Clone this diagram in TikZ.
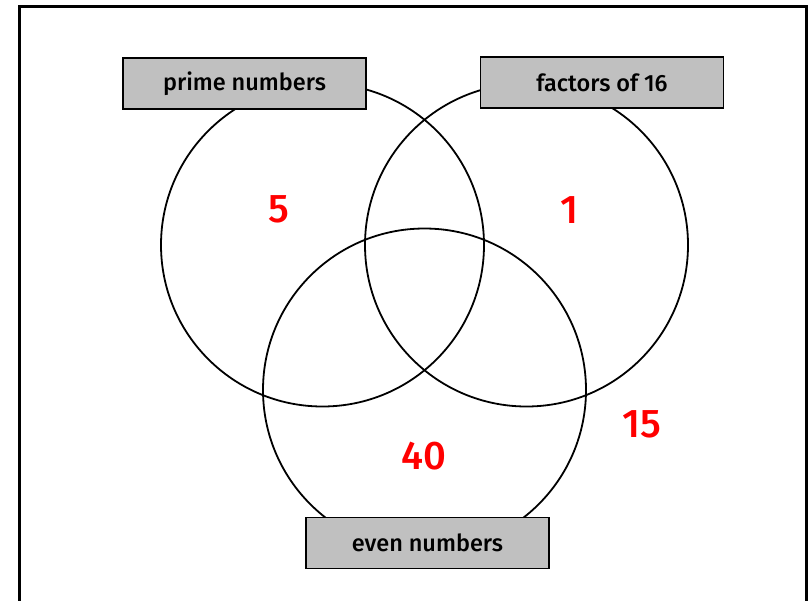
\documentclass[tikz,border=0pt]{standalone}
\usepackage{fontspec}
\setmainfont{Fira Sans}
\newfontfamily\mediumfont{Fira Sans Medium}
\usepackage{tikz}
\definecolor{boxgray}{RGB}{192,192,192}
\definecolor{numred}{RGB}{255,0,0}
\begin{document}
\begin{tikzpicture}[x=1pt, y=-1pt,
    setring/.style={circle, draw, line width=1.8pt, minimum size=323pt, inner sep=0pt},
    setlabel/.style={rectangle, draw, line width=1.3pt, fill=boxgray, minimum width=243pt, minimum height=51pt, inner sep=0pt, font=\mediumfont\fontsize{23.5}{28}\selectfont},
    entry/.style={text=numred, font=\mediumfont\fontsize{40}{48}\selectfont}]
                    \useasboundingbox (0,0) rectangle (810,600);
                    % Frame
                    \draw[line width=3pt] (19,612) -- (19,6) -- (806,6) -- (806,612);
                    % Sets
                    \node[setring] (prime) at (322.5,245) {};
                    \node[setring] (factors) at (526.5,245) {};
                    \node[setring] (even) at (424.5,390) {};
                    % Labels
                    \node[setlabel] (primelbl) at (244.5,83.5) {prime numbers};
                    \node[setlabel] (factorslbl) at (602,82.5) {factors of 16};
                    \node[setlabel] (evenlbl) at (427.5,543) {even numbers};
                    % Entries
                    \node[entry] (five) at (279,209) {5};
                    \node[entry] (one) at (569,210) {1};
                    \node[entry] (forty) at (424,456) {40};
                    \node[entry] (fifteen) at (642,424) {15};
                \end{tikzpicture}
\end{document}
